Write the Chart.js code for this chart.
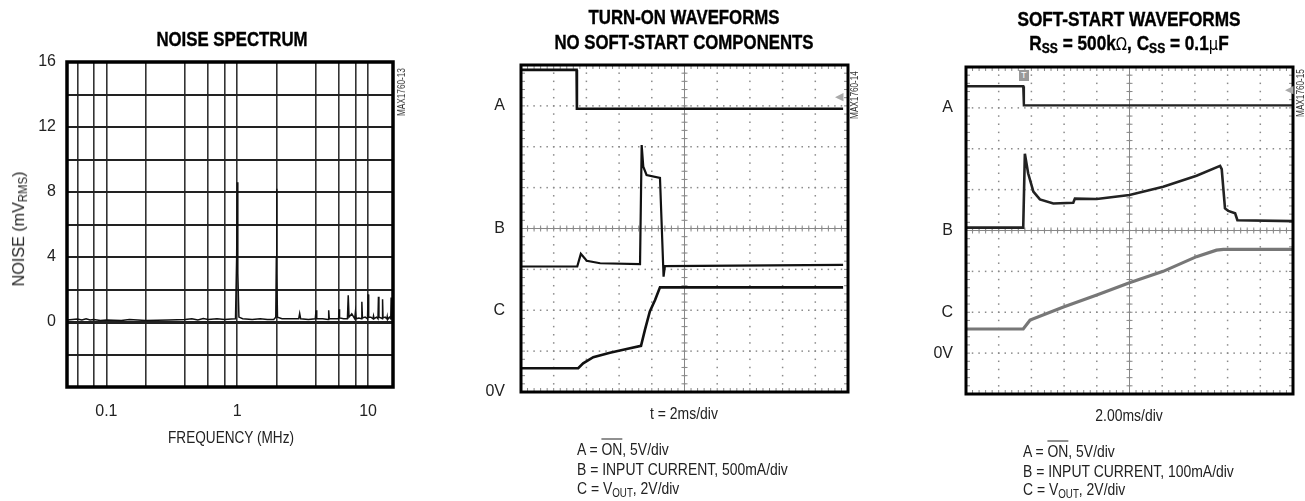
<!DOCTYPE html>
<html>
<head>
<meta charset="utf-8">
<script src="https://cdn.jsdelivr.net/npm/chart.js@4.4.1/dist/chart.umd.min.js"></script>
<style>
  body { margin: 0; background: #fff; width: 1305px; height: 501px; overflow: hidden; position: relative; }
  canvas { position: absolute; top: 0; }
  .t { position: absolute; white-space: nowrap; color: #222; font-family: 'Liberation Sans', Arial, sans-serif; font-size: 17px; line-height: 1; }
  .c { transform: translate(-50%, -50%) scaleX(var(--k, 0.82)); }
  .l { transform-origin: 0 50%; transform: translate(0, -50%) scaleX(var(--k, 0.82)); }
  .ttl { font-weight: bold; font-size: 21px; color: #000; --k: 0.8; -webkit-text-stroke: 0.4px #000; }
  .rot { transform: translate(-50%, -50%) rotate(-90deg) scaleX(var(--k, 0.82)); }
  .tag { font-size: 10px; color: #333; }
  sub { font-size: 70%; vertical-align: -0.25em; }
  .ov { text-decoration: overline; }
  .sym { font-family: 'DejaVu Sans', sans-serif; font-weight: normal; font-size: 18px; -webkit-text-stroke: 0; }
</style>
</head>
<body>
<canvas id="noiseChart" width="420" height="501" style="left:0"></canvas>
<canvas id="turnOnChart" width="440" height="501" style="left:440px"></canvas>
<canvas id="softChart" width="425" height="501" style="left:880px"></canvas>

<div class="t ttl c" style="left:232px; top:38px">NOISE SPECTRUM</div>
<div class="t rot" style="left:20px; top:229px; --k:0.95">NOISE (mV<sub>RMS</sub>)</div>
<div class="t c" style="left:231px; top:437px; --k:0.8">FREQUENCY (MHz)</div>
<div class="t tag rot" style="left:402px; top:92px">MAX1760-13</div>

<div class="t ttl c" style="left:684px; top:16px">TURN-ON WAVEFORMS</div>
<div class="t ttl c" style="left:684px; top:41px">NO SOFT-START COMPONENTS</div>
<div class="t c" style="left:684px; top:413px">t = 2ms/div</div>
<div class="t l" style="left:577px; top:449px">A = <span class="ov">ON</span>, 5V/div</div>
<div class="t l" style="left:577px; top:469px">B = INPUT CURRENT, 500mA/div</div>
<div class="t l" style="left:577px; top:490px">C = V<sub>OUT</sub>, 2V/div</div>
<div class="t tag rot" style="left:855px; top:95px">MAX1760-14</div>
<div class="t" style="left:835px; top:91px; font-size:11px; color:#aaa">&#9664;</div>

<div class="t ttl c" style="left:1129px; top:18px; --k:0.82">SOFT-START WAVEFORMS</div>
<div class="t ttl c" style="left:1129px; top:44px; --k:0.82">R<sub>SS</sub> = 500k<span class="sym">&Omega;</span>, C<sub>SS</sub> = 0.1<span class="sym">&mu;</span>F</div>
<div class="t c" style="left:1129px; top:415px">2.00ms/div</div>
<div class="t l" style="left:1023px; top:451px">A = <span class="ov">ON</span>, 5V/div</div>
<div class="t l" style="left:1023px; top:471px">B = INPUT CURRENT, 100mA/div</div>
<div class="t l" style="left:1023px; top:491px">C = V<sub>OUT</sub>, 2V/div</div>
<div class="t tag rot" style="left:1301px; top:93px">MAX1760-15</div>
<div class="t" style="left:1285px; top:84px; font-size:11px; color:#aaa">&#9664;</div>
<div class="t" style="left:1019px; top:70px; font-size:9px; color:#fff; background:#999; padding:1px 2px">T</div>

<script>
// noise spectrum (MHz, mVrms)
const noiseFreq = [0.05, 0.055, 0.06, 0.065, 0.07, 0.075, 0.08, 0.09, 0.1, 0.13, 0.15, 0.2, 0.3, 0.4, 0.45, 0.5, 0.55, 0.6, 0.7, 0.8, 0.9, 0.97,
  0.99, 1.0, 1.01, 1.03, 1.1, 1.3, 1.5, 1.7, 1.9, 1.97, 1.99, 2.0, 2.01, 2.03, 2.2, 2.5, 2.8, 2.95, 3.0, 3.05, 3.5, 3.95, 4.0, 4.05,
  4.5, 4.95, 5.0, 5.05, 5.5, 5.95, 6.0, 6.05, 6.5, 6.95, 7.05, 7.15, 7.5, 7.9, 8.0, 8.1, 8.5, 8.9, 8.96, 9.05, 9.5, 9.9, 10.0, 10.1,
  10.5, 10.9, 11.0, 11.1, 11.6, 11.9, 12.0, 12.1, 12.6, 12.85, 12.9, 13.0, 13.5, 13.9, 14.0, 14.1, 14.6, 14.9, 15.0, 15.1, 15.5];
const noiseLevel = [0.12, 0.15, 0.18, 0.12, 0.2, 0.12, 0.15, 0.1, 0.12, 0.1, 0.15, 0.1, 0.12, 0.15, 0.2, 0.12, 0.22, 0.15, 0.2, 0.15, 0.18, 0.2,
  4, 8.6, 3, 0.3, 0.2, 0.15, 0.2, 0.15, 0.15, 0.3, 4, 8.2, 3, 0.3, 0.2, 0.2, 0.2, 0.2, 0.52, 0.2, 0.15, 0.2, 0.72, 0.2,
  0.2, 0.15, 0.72, 0.2, 0.2, 0.2, 0.78, 0.25, 0.2, 0.2, 1.64, 0.3, 0.5, 0.2, 0.62, 0.2, 0.25, 0.2, 1.25, 0.25, 0.3, 0.2, 1.7, 0.3,
  0.3, 0.2, 0.37, 0.2, 0.3, 0.2, 1.56, 0.3, 0.25, 0.2, 1.4, 0.25, 0.3, 0.2, 0.33, 0.15, 0.3, 0.2, 1.5, 0.2, 0.2];
const freqGrid = [0.06, 0.08, 0.1, 0.2, 0.4, 0.6, 0.8, 1, 2, 4, 6, 8, 10];
const freqLabels = [0.1, 1, 10];
const noiseLabels = [0, 4, 8, 12, 16];

// turn-on waveforms, time and level in scope divisions
const turnOnA_t = [0, 1.7, 1.71, 9.85];
const turnOnA_v = [7.88, 7.88, 6.93, 6.93];
const turnOnB_t = [0, 1.72, 1.83, 2.01, 2.42, 3.64, 3.69, 3.74, 3.84, 4.25, 4.36, 4.40, 9.85];
const turnOnB_v = [3.07, 3.07, 3.38, 3.21, 3.15, 3.13, 6.04, 5.51, 5.31, 5.24, 2.82, 3.08, 3.11];
const turnOnC_t = [0, 1.75, 1.9, 2.21, 2.72, 3.23, 3.67, 3.79, 3.94, 4.1, 4.25, 9.85];
const turnOnC_v = [0.58, 0.58, 0.70, 0.85, 0.96, 1.05, 1.13, 1.52, 1.97, 2.25, 2.56, 2.56];
const turnOnMarks = [7, 4, 2, 0];
const turnOnNames = ['A', 'B', 'C', '0V'];

// soft-start waveforms
const softA_t = [0, 1.75, 1.77, 10];
const softA_v = [7.53, 7.53, 7.06, 7.06];
const softB_t = [0, 1.75, 1.8, 1.9, 2.06, 2.26, 2.67, 3.28, 3.33, 4.0, 5.0, 6.03, 7.05, 7.77, 7.82, 7.92, 8.02, 8.23, 8.3, 10];
const softB_v = [4.07, 4.07, 5.88, 5.4, 4.95, 4.76, 4.66, 4.68, 4.78, 4.77, 4.87, 5.07, 5.34, 5.58, 5.5, 4.54, 4.48, 4.42, 4.25, 4.23];
const softC_t = [0, 1.75, 1.96, 2.98, 4.0, 5.02, 6.03, 7.05, 7.66, 7.87, 10];
const softC_v = [1.59, 1.59, 1.81, 2.13, 2.42, 2.73, 3.0, 3.36, 3.52, 3.54, 3.54];
const softMarks = [7, 4, 2, 1];
const softNames = ['A', 'B', 'C', '0V'];

const sans = "'Liberation Sans', Arial, sans-serif";
const zip = (xs, ys) => xs.map((x, i) => ({ x: x, y: ys[i] }));

// thick box round the plot area
const frame = {
  id: 'frame',
  afterDatasetsDraw(chart, args, opts) {
    const a = chart.chartArea, ctx = chart.ctx;
    ctx.save();
    ctx.strokeStyle = '#000';
    ctx.lineWidth = opts.width || 3;
    ctx.strokeRect(a.left, a.top, a.right - a.left, a.bottom - a.top);
    ctx.restore();
  }
};

// oscilloscope graticule: dotted divisions, ticked centre lines
const graticule = {
  id: 'graticule',
  beforeDatasetsDraw(chart) {
    const ctx = chart.ctx, xs = chart.scales.x, ys = chart.scales.y;
    const a = chart.chartArea;
    ctx.save();
    ctx.fillStyle = '#8a8a8a';
    for (let i = 1; i < 10; i++) {
      const px = xs.getPixelForValue(i);
      for (let j = 0; j <= 40; j++) {
        const py = ys.getPixelForValue(j * 0.2);
        ctx.fillRect(px - 0.75, py - 0.75, 1.5, 1.5);
      }
    }
    for (let j = 1; j < 8; j++) {
      const py = ys.getPixelForValue(j);
      for (let i = 0; i <= 50; i++) {
        const px = xs.getPixelForValue(i * 0.2);
        ctx.fillRect(px - 0.75, py - 0.75, 1.5, 1.5);
      }
    }
    ctx.strokeStyle = '#888';
    ctx.lineWidth = 1;
    const cx = xs.getPixelForValue(5), cy = ys.getPixelForValue(4);
    ctx.beginPath();
    ctx.moveTo(cx, a.top); ctx.lineTo(cx, a.bottom);
    ctx.moveTo(a.left, cy); ctx.lineTo(a.right, cy);
    for (let i = 1; i < 50; i++) {
      const px = xs.getPixelForValue(i * 0.2);
      ctx.moveTo(px, cy - 3); ctx.lineTo(px, cy + 3);
      ctx.moveTo(px, a.top); ctx.lineTo(px, a.top + 4);
      ctx.moveTo(px, a.bottom); ctx.lineTo(px, a.bottom - 4);
    }
    for (let j = 1; j < 40; j++) {
      const py = ys.getPixelForValue(j * 0.2);
      ctx.moveTo(cx - 3, py); ctx.lineTo(cx + 3, py);
      ctx.moveTo(a.left, py); ctx.lineTo(a.left + 4, py);
      ctx.moveTo(a.right, py); ctx.lineTo(a.right - 4, py);
    }
    ctx.stroke();
    ctx.restore();
  }
};

new Chart(document.getElementById('noiseChart'), {
  type: 'line',
  data: {
    datasets: [{
      data: zip(noiseFreq, noiseLevel),
      borderColor: '#111',
      borderWidth: 1.5,
      pointRadius: 0,
      tension: 0
    }]
  },
  options: {
    responsive: false,
    animation: false,
    devicePixelRatio: 1,
    layout: { padding: { top: 62, right: 27, bottom: 74, left: 0 } },
    plugins: { legend: { display: false }, tooltip: { enabled: false }, frame: { width: 3.5 } },
    scales: {
      x: {
        type: 'logarithmic',
        min: 0.05,
        max: 15.5,
        afterBuildTicks: s => { s.ticks = freqGrid.map(v => ({ value: v })); },
        afterFit: s => { s.height = 40; },
        ticks: {
          autoSkip: false,
          maxRotation: 0,
          padding: 15,
          color: '#222',
          font: { family: sans, size: 16 },
          callback: v => freqLabels.includes(v) ? String(v) : ''
        },
        grid: { color: '#333', lineWidth: 1.6, drawTicks: false },
        border: { display: false }
      },
      y: {
        min: -4,
        max: 16,
        afterFit: s => { s.width = 67; },
        ticks: {
          stepSize: 2,
          autoSkip: false,
          padding: 11,
          color: '#222',
          font: { family: sans, size: 16 },
          callback: v => noiseLabels.includes(v) ? String(v) : ''
        },
        grid: { color: '#222', lineWidth: c => c.tick && c.tick.value === 0 ? 3 : 2, drawTicks: false },
        border: { display: false }
      }
    }
  },
  plugins: [frame]
});

function scopeChart(id, traces, marks, names, box) {
  return new Chart(document.getElementById(id), {
    type: 'line',
    data: {
      datasets: traces.map(tr => ({
        data: zip(tr.t, tr.v),
        borderColor: tr.color,
        borderWidth: tr.width,
        pointRadius: 0,
        tension: 0
      }))
    },
    options: {
      responsive: false,
      animation: false,
      devicePixelRatio: 1,
      layout: { padding: { top: box.top, right: box.right, bottom: box.bottom, left: 0 } },
      plugins: { legend: { display: false }, tooltip: { enabled: false }, frame: { width: 3 } },
      scales: {
        x: { type: 'linear', min: 0, max: 10, display: false },
        y: {
          min: 0,
          max: 8,
          afterFit: s => { s.width = box.left; },
          afterBuildTicks: s => { s.ticks = marks.map(v => ({ value: v })); },
          ticks: {
            autoSkip: false,
            padding: box.pad,
            color: '#222',
            font: { family: sans, size: 16 },
            callback: v => names[marks.indexOf(v)]
          },
          grid: { display: false, drawTicks: false },
          border: { display: false }
        }
      }
    },
    plugins: [graticule, frame]
  });
}

scopeChart('turnOnChart', [
  { t: turnOnA_t, v: turnOnA_v, color: '#111', width: 2.6 },
  { t: turnOnB_t, v: turnOnB_v, color: '#111', width: 2.2 },
  { t: turnOnC_t, v: turnOnC_v, color: '#111', width: 2.6 }
], turnOnMarks, turnOnNames, { left: 81, right: 32, top: 65, bottom: 109, pad: 16 });

scopeChart('softChart', [
  { t: softA_t, v: softA_v, color: '#222', width: 2.4 },
  { t: softB_t, v: softB_v, color: '#222', width: 2.6 },
  { t: softC_t, v: softC_v, color: '#777', width: 3.2 }
], softMarks, softNames, { left: 86, right: 12, top: 67, bottom: 107, pad: 13 });
</script>
</body>
</html>
